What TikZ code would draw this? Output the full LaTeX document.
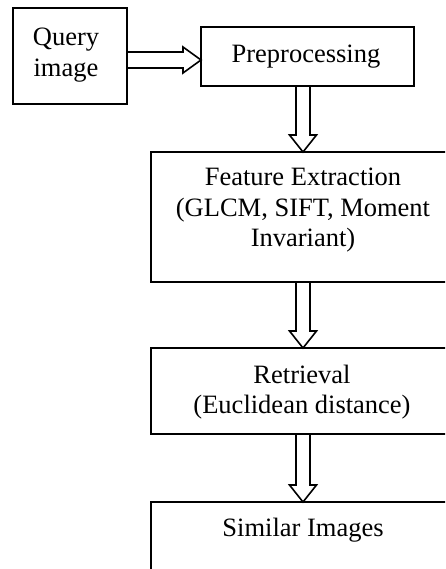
\documentclass[tikz,border=0pt]{standalone}
\usepackage{fontspec}
\setmainfont{Liberation Serif}
\usetikzlibrary{calc}

% hollow block arrow pointing down from the first node to the second
\newcommand{\hollowdown}[2]{%
  \draw[flowline] let \p1=(#1.south), \p2=(#2.north) in
    (\x2-7pt,\y1) -- (\x2-7pt,\y2+17pt) -- (\x2-13.5pt,\y2+17pt) -- (\x2,\y2)
    -- (\x2+13.5pt,\y2+17pt) -- (\x2+7pt,\y2+17pt) -- (\x2+7pt,\y1);}

\begin{document}
\begin{tikzpicture}[x=1pt,y=1pt,
  flowline/.style={line width=1.6pt, line join=miter},
  stagebox/.style={draw, line width=1.6pt, inner sep=0pt, outer sep=0pt},
  caption/.style={font=\fontsize{26.5}{30.5}\selectfont, align=center, inner sep=0pt, anchor=base}]
\useasboundingbox (0,0) rectangle (445,569);
\clip (0,0) rectangle (445,569);

% stage boxes
\node[stagebox, minimum width=114pt, minimum height=96pt] (q) at (70,513) {};
\node[stagebox, minimum width=213pt, minimum height=59pt] (p) at (307.5,512.5) {};
\node[stagebox, minimum width=304pt, minimum height=130pt] (f) at (303,352) {};
\node[stagebox, minimum width=304pt, minimum height=86pt] (r) at (303,178) {};
\node[stagebox, minimum width=304pt, minimum height=130pt] (s) at (303,2) {};

% captions (base anchor sits on the last line)
\node[caption] (qt) at (66,492.5) {Query\\image};
\node[caption] (pt) at (306,506) {Preprocessing};
\node[caption] (ft) at (303,322) {Feature Extraction\\(GLCM, SIFT, Moment\\Invariant)};
\node[caption] (rt) at (302,155) {Retrieval\\(Euclidean distance)};
\node[caption] (st) at (303,32) {Similar Images};

% hollow arrow from the query to preprocessing
\draw[flowline] let \p1=(q.east), \p2=(p.west) in
  (\x1,517pt) -- (\x2-18pt,517pt) -- (\x2-18pt,522pt) -- (\x2,509pt)
  -- (\x2-18pt,496pt) -- (\x2-18pt,501pt) -- (\x1,501pt);

% hollow arrows down the pipeline
\hollowdown{p}{f}
\hollowdown{f}{r}
\hollowdown{r}{s}
\end{tikzpicture}
\end{document}
